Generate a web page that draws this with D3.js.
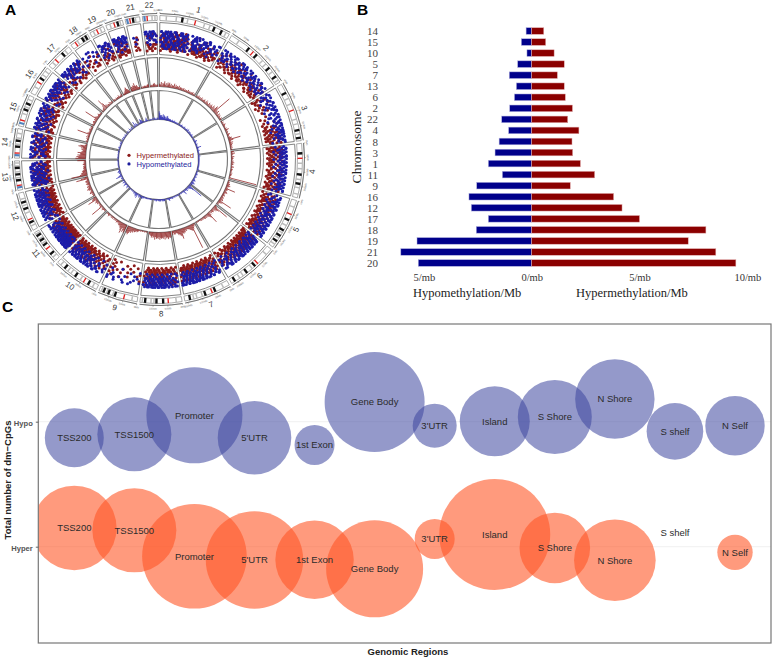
<!DOCTYPE html>
<html><head><meta charset="utf-8">
<script src="https://d3js.org/d3.v7.min.js"></script>
<style>html,body{margin:0;padding:0;background:#fff}svg{display:block}</style>
</head><body><svg id="c" width="772" height="658"></svg>
<script>
// ---------- Panel A data ----------
const chromNames=["1","2","3","4","5","6","7","8","9","10","11","12","13","14","15","16","17","18","19","20","21","22"];
const chromEndDeg=[30,58,83,106,128,150,170,188,205,225,240,257,270,283,297,310,322,331,338,346,353,360];
const chromMb=[249,243,198,191,181,171,159,146,141,136,135,133,115,107,102,90,81,78,59,63,48,51];
const centromere=[.49,.39,.46,.26,.27,.36,.38,.31,.33,.3,.4,.27,.14,.15,.17,.41,.3,.22,.45,.44,.27,.27];
const ideoBlack=[[.3,.76,.87],[.3,.45,.72,.88],[.14,.8,.93],[.16,.55,.72],[.38,.6,.72,.84],[.42,.62,.9],[.3,.52,.86],[.42,.58,.85],[.55,.72,.85],[.18,.5,.78],[.2,.52,.68,.85],[.18,.55,.72],[.3,.5,.72],[.35,.55],[.5,.7],[.55],[.62],[.6,.8],[],[.62],[.45],[]];
const ideoGrey=[[.08,.22,.38,.62,.7,.94],[.12,.58,.65,.8,.95],[.25,.35,.62,.7,.87],[.35,.45,.65,.8,.92],[.12,.5,.66,.78,.92],[.12,.5,.72,.8],[.12,.6,.72,.79],[.12,.65,.72,.93],[.12,.62,.78,.92],[.08,.38,.62,.7,.9],[.1,.6,.75,.92],[.1,.45,.65,.82],[.4,.6,.8,.9],[.45,.66,.82],[.38,.6,.85],[.22,.7,.85],[.15,.78],[.35,.7],[.2,.7],[.2,.8],[.65],[.6,.8]];
const stalkChroms=["13","14","15","21","22"];
// one character per position along the chromosome; digit = radial level, "." = nothing there
const hyperDots=[
"527316482531647253182647315264813526473152746135....25342413524.13.425.31.42.3.24.13.5.2.41.3.5.2.3",
".4.25.3.14.3.52.4.1.35.2.4.13.5.24.1.3.52.4.3.1.25.4.2.31.5.2.4.3.1.5.3.2.4.1.35.2.4.1.3.2",
"3.2.4.1..2.3..2.4...3....2.......3.....2....1.3....2.4.15.32.41.53.24.13.52.41.32.5",
"23154.3142.5.314.2.53.14.2.5.3.1.4.25.1.3.4.2.5.1.3.42.5.1.34.2.51.3.4.2.5.13.24.15.32",
"4.2.5.13.24.15.32.41.53.24.15.32.41.52.3.14.25.31.42.53.14.25.3142.5314.2.5",
"35142.5314253142531425314.2531425.3142.53142.5314.253.14.2.53.14.2.5.3.1.42.5",
"42.5.31.4.25.31.425.314.253.1425.31425.3142.5.3142531.4253142.531.425.31425",
"3.5.2.71.3.62.41.752.4135.2.61352.47352.41652.41372413.62.4135.2.4.13.52.4",
"4....5.......3......2...4.........3..5.......4.....35...2.4",
"4.2.5.3..4.2.5.31.4.25.31.42.53.14.25.31425.31425314.2531425314.2531425",
"3514253142531425314253142531425.3142.5314.25.31.42.53.14.2.53.1.4.2.5",
"2.4.1.3.52.41.35.24.13.52.41.35.2413.5241.3524.1352.41352.4135.24.1.3.5",
"352713624.13574135.24635241752.413.6241.35.24.1",
"25714.26314.2.5714253.1625.31475314.25.61.42.731.4.2",
"31725.31.4.65.3.1.4.75.31.4.25.6.14.2.73.14.65.3.1.4",
"4.2.7.3.1.6.25.3.74.2.5.61.4.2.73.1.4.65.3.14.75.",
"4.2.73.1.4.65.3.1.7.2.5.6.14.25.3.1.4.2.5",
"3...4..2.5...3..1.4..2...5..3",
"2..4...3..2..4.3..1...2.4.3",
"3.1..4.2.3.5.1.3.6.2.4.3.1.5.2",
".....35.4261.....",
".4.3.2.7.3.1.6.2.3.5.1.3."];
const hyperDots2=[
"0738152649371806254937160825374918.....0627384.19.6.03.7.18.2.6.0.4.7.1..3.6",
".6.0.7.1.8..2.6.0.5.7.1.3.8.0.6.2.7.1.5.0.8.3.6.1.7.0.5.2.8.1.6.3.7",
"0.1.6....7.0...1....5.........0.......6.0.7.1.6.0.71.60.72.60.17.06.27",
"60.17.26.07.16.27.06.17.26.07.1.6.2.7.0.6.17.2.6.07.1.6.27.06.17.26.07",
"0.6.1.7.06.27.16.07.26.17.06.27.16.07.26.17.06.27.1607.2617.0627",
"06170627160726170627160726170627.1607.2617.06.27.16.07.2.61.7.0",
"6.07.16.27.061.7260.7162.7061.7260.7162.7061.7260.7162.7",
"0.7.1.6.08.27.16.08.27.1608.2716.0827.1608.27.16.0.8.2.7",
"7....1.......0......6...1.........7..0.......1.7.0.6",
"1.6...0.7.16.0.72.61.07.26.1607.2610.7261.0726.1072.6107",
"07162607162706170627160726170.6271.60.72.61.07.2.6.1",
"0.7.1.6.02.71.60.27.16.02.71.6027.1602.7160.2716.0",
"0831605827160.3851607281.60.38.16.0",
"8.0.7.1.6.3.8.0.5.7.1.6.0.3.8.1.6.0.7.2.5.8.0.1.7",
"0.8.1.7.3.6.0.8.2.7.1.5.0.8.3.6.1.7.0.8.2.6.1",
"8.0.3.7.1.8.0.6.2.8.1.7.0.5.8.3.0.7.1.6",
"0.8.1.7.3.6.0.8.2.7.1.6.0.8.3.7.1",
"6..0..7...1..6",
"0.6..1.7.3..6.0.8.1",
"7.0.6.1.8.3.7.0.6.2.8.1",
"...1.7....",
"0.7.1.6.0.8.3.7"];
const hypoDots=[
"694738259481736295847362948175364829573846291753.....6748395746.83.596.47.58.6.79.84.6.5.87.4.6.9.5",
"7.96.48.75.69.8.47.96.58.79.64.8.57.96.48.7.59.86.47.9.58.6.74.89.5.76.94.8.57.96.48.7.59.6",
"8.6.7.5.9.7..8.6.9.7.8.6.9.7.8.9.6.8.7.9.5.8.7.6.9.8.7.9.6.8.7.96.89.78.69.87.96.7.8.6.9",
"8.7.96.8.79.68.7.96.87.9.6.8.79.6.87.9.68.7.96.8.7.9.68.7.96.87.9.68.79.6.87.96.8.7.9.6",
"7.9.6.8.5.97.68.95.76.89.57.68.95.76.896.57.896.578.965.789.657.8965.789.6",
"6789.5678956789.5678956789.567895.6789.5678.956.78.95.6.78.95.6.7.8.9.5.6.7",
"8.9.6.7.8.5.9.67.8.95.67.8.956.78.9567.895.6789.56789.56789.5678.9567.89",
"7.9.6.8.5.7.96.85.79.68.5796.85.7968.5796.85.79.6857.968.579.68.57.96.8",
"8...6.....7....8...9.......6...8.....7.......9...6.7.....8",
"6.8.7.....9.6..8.7..9.6.8.57.96.85.76.98.576.985.76985.7698.57698.5769",
"7698576985769857698576.985769.857698.5769.85.76.98.57.6.98.5.7.6.9",
"6.7.9.8.57.96.85.79.68.57.96.85.7968.5796.8579.6857.968.5796.85.7.9",
"6849573864.95738.64957.38649.5738.649.57.38.6.4",
"5.8.3.9.4.7.6.3.9.5.8.6.4.7.3.9.5.8.4.6.7.3.9.5.6.8",
"86957.48.69.57.48.6.9.57.48.6.95.7.48.69.5.7.48.69",
"8.9.6.7.5.8.97.6.85.79.68.57.9.68.57.96.85.7.9.6",
"8.96.78.95.67.89.56.78.95.67.89.56.78.9.5",
"8..6...7..9..6.8...5",
"9.6.7.8.5.8.6..8.9.5.7.8.6",
"8.6.9.7.5.8.6.7.9.5.8.7.6.9.8.7.6.8",
"...7..6.....",
"8.9.6.7.5.9.8.6.7.9.8.5.7"];
const hypoDots2=[
"4928371659283746192837564928176384.....9265748.39.2.64.8.57.3.9.2.6.8.4..7.9",
"3.5.9.4.6.8.3.5.9.4.7.3.6.9.5.8.4.6.3.9.5.7.8.4.6.3.9.5.8.4.7",
"5.9.4.7.3.6.9.5.4.8.3.9.5.7.4.9.3.6.8.5.9.4.7.3.9.5.6.4.8.9.3",
"4.9.5.3.8.4.9.6.3.5.8.4.9.3.7.5.9.4.6.3.8.5.4.9.3.7.5.9.4",
"4.3.9.5.8.3.94.58.39.48.53.94.85.39.48.53.94.85.3948.5394.8539",
"34893584.3948.5394.8539.4853.94.85.39.48.5.3.9.4",
"3.94.85.39.48.539.485.394.853.948.539.485.394.853.948",
"4.3.9.5.3.84.93.58.49.35.84.93.58.49.35.84.9.3.5.8",
"3....5...4.....9..3.....8...4.9",
"4.....3.9.5.8.39.48.53.94.85.39.48.5394.8539.4853",
"4839538495384.9538.4953.84.95.38.4.9.3",
"3.4.8.5.93.48.59.34.85.93.48.5934.8593.48.5",
"3928471659382.7416593.82.7.4",
"9.2.7.3.6.8.4.2.9.5.7.3.8.2.6.4.9.3.7.5",
"2.9.4.7.3.8.5.2.9.6.4.8.3.7.2.9.5.6.3.8.4.7",
"3.9.2.8.4.7.3.9.2.6.5.8.3.9.2.7.4.8.3",
"9.3.8.2.7.4.9.3.8.2.6.5.9.3.7.2.8",
"4...9..3...7",
"3.9.4.7.2.8.3.9.5.7.4",
"9.3.8.4.7.2.9.5.8.3.6.9.4.8",
"..4...",
"9.4.8.3.7.9.5.8.4"];
// one character per position; base-36 digit = bar height
const midBars=["4362547352646352436253435243324232324232324232","23242324323432543254354365487m546325243242","2131243221325313214321354e6325243231312","4253214232132423124213221313212t1","2132435423c4324532342343453g64231","24i8653443425e7543434323232212121","2346r8765443546676c98675445535","787978696878796878696757543","1212112121234345465768a98","a8a6c9765543342323132321243231","1323432f4232243543c764","3232543246535424534532e94","i977565434343243232a","c9b8a77a6546475a8321","2312314232f4323242323","322343243g5432343232","32346d8443324323","2321323242234","22345786542","465769656433","2132332344","2323453323"];
const innerBars=["a8564634736542524634323232213222132121212121","2121232121213212123132421232131212312121","1212124321213212126321213121212","21312121212121212121212121212131","1212123212132121234321354323","23i85432324232163212121212","2121211212113121214321211","232323123232212321211","1212121212221213243","3243216354323212121213","2124321253124213","12321853213243212","11211212112121","2121212112122","1213212123231","12313213212","232142341","2373421","2236542","2113521","12213","2312132"];
const legendA=["Hypermethylated","Hypomethylated"];
// ---------- Panel B data ----------
const chromOrder=["14","15","10","5","7","13","6","2","22","4","8","3","1","11","9","16","12","17","18","19","21","20"];
const hyperRate=[.56,.65,1.04,1.51,1.19,1.51,1.56,1.89,1.67,2.19,1.87,1.90,2.26,2.92,1.79,3.80,4.19,5.0,8.08,7.26,8.54,9.47];
const hypoRate=[.26,.48,.22,.65,1.04,.71,.80,1.02,1.39,1.07,1.51,1.70,2.01,1.36,2.55,2.91,2.80,2.01,2.57,5.32,6.07,5.26];
const rateTicks=[-5,0,5,10];
// ---------- Panel C data ----------
const regions=["TSS200","TSS1500","Promoter","5'UTR","1st Exon","Gene Body","3'UTR","Island","S Shore","N Shore","S shelf","N Self"];
const hypoY=[.871,.899,1.051,.871,.814,1.158,.968,1.003,1.038,1.182,.923,.968];
const hypoSize=[870,1369,2304,1354,400,2500,484,1225,1369,1576,801,882];
const hyperY=[.150,.131,-.077,-.106,-.105,-.177,.062,.098,-.010,-.108,.110,-.045];
const hyperSize=[1789,1764,2735,2372,1537,2352,400,3080,1246,1665,0,313];

const svg=d3.select("#c");
const SANS="'Liberation Sans',Arial,sans-serif",SERIF="'Liberation Serif','Times New Roman',serif";
const letter=(t,x,y)=>svg.append("text").attr("x",x).attr("y",y).text(t).attr("font-family",SANS).attr("font-weight",700).attr("font-size",15.5).attr("fill","#000");
letter("A",5,15);letter("B",357,15);letter("C",2,312);

// ---------- Panel A ----------
const A=svg.append("g").attr("transform","translate(158.5,159.5)");
const rad=d=>d*Math.PI/180, gap=.55;
const chroms=chromNames.map((n,i)=>({n,i,a0:(i?chromEndDeg[i-1]:0)+gap,a1:chromEndDeg[i]-gap,mb:chromMb[i]}));
const arc=d3.arc();
const sector=(c,r0,r1,f0=0,f1=1)=>{const s=d3.scaleLinear([0,1],[c.a0,c.a1]);return arc({innerRadius:r0,outerRadius:r1,startAngle:rad(s(f0)),endAngle:rad(s(f1))});};
const tracks=[[105,137,.9],[73,102,1.15],[40,69,1.15]];
const box=A.append("g");
chroms.forEach(c=>tracks.forEach(t=>box.append("path").attr("d",sector(c,t[0],t[1])).attr("fill","#fff").attr("stroke","#777").attr("stroke-width",t[2])));
// ideogram
const rI0=139,rI1=144;
chroms.forEach((c,i)=>{
  const g=A.append("g");
  g.append("path").attr("d",sector(c,rI0,rI1)).attr("fill","#fff").attr("stroke","#666").attr("stroke-width",.55);
  const w=1.0/(c.a1-c.a0);
  ideoGrey[i].forEach(f=>g.append("path").attr("d",sector(c,rI0,rI1,f,f+w*.6)).attr("fill","#bbb"));
  ideoBlack[i].forEach(f=>g.append("path").attr("d",sector(c,rI0,rI1,f,f+w*.95)).attr("fill","#111"));
  g.append("path").attr("d",sector(c,rI0,rI1,centromere[i],centromere[i]+w*.55)).attr("fill","#e02020");
  if(stalkChroms.includes(c.n)) g.append("path").attr("d",sector(c,rI0,rI1,.06,.06+w*.9)).attr("fill","#4f81bd");
  // genome axis
  const s=d3.scaleLinear([0,c.mb],[c.a0,c.a1]);
  g.append("path").attr("d",arc({innerRadius:146,outerRadius:146,startAngle:rad(c.a0),endAngle:rad(c.a1)})).attr("fill","none").attr("stroke","#444").attr("stroke-width",.5);
  d3.range(0,c.mb,50).forEach(mb=>{
    const a=rad(s(mb)),p0=d3.pointRadial(a,146),p1=d3.pointRadial(a,147.4),p2=d3.pointRadial(a,148.4);
    g.append("line").attr("x1",p0[0]).attr("y1",p0[1]).attr("x2",p1[0]).attr("y2",p1[1]).attr("stroke","#444").attr("stroke-width",.4);
    const deg=s(mb),flip=deg>90&&deg<270;
    g.append("text").attr("transform",`translate(${p2[0]},${p2[1]}) rotate(${flip?deg-180:deg})`).attr("text-anchor","middle").attr("dy",flip?"0.7em":0).attr("font-family",SANS).attr("font-size",2.6).attr("fill","#666").text(mb+"Mb");
  });
  // chromosome name
  const mid=(c.a0+c.a1)/2,p=d3.pointRadial(rad(mid),154.5),flip=mid>90&&mid<270;
  g.append("text").attr("transform",`translate(${p[0]},${p[1]}) rotate(${flip?mid-180:mid})`).attr("text-anchor","middle").attr("dominant-baseline","central").attr("font-family",SANS).attr("font-size",8).attr("fill","#333").text(c.n);
});
// scatter track
const rDot=d3.scaleLinear([0,9],[109,128]);
function dots(list,color){
  const g=A.append("g").attr("fill",color);
  chroms.forEach((c,i)=>{
    const cells=Array.from(list[i]);
    const s=d3.scaleLinear([0,cells.length-1],[c.a0+.5,c.a1-.5]);
    g.selectAll(null).data(cells.map((v,k)=>({v,k})).filter(d=>d.v!==".")).join("circle")
      .attr("cx",d=>d3.pointRadial(rad(s(d.k)),rDot(+d.v))[0])
      .attr("cy",d=>d3.pointRadial(rad(s(d.k)),rDot(+d.v))[1])
      .attr("r",1.5);
  });
}
dots(hyperDots,"#8b1a1a");dots(hyperDots2,"#8b1a1a");dots(hypoDots,"#1c1ca8");dots(hypoDots2,"#1c1ca8");
// bar tracks
function bars(list,r0,r1,color){
  const h=d3.scalePow().exponent(1.15).domain([0,30]).range([r0,r1]),g=A.append("g").attr("stroke",color).attr("stroke-width",.75);
  chroms.forEach((c,i)=>{
    const cells=Array.from(list[i]).map(v=>parseInt(v,36));
    const s=d3.scaleLinear([0,cells.length-1],[c.a0+.3,c.a1-.3]);
    g.selectAll(null).data(cells).join("line").each(function(v,k){
      const a=rad(s(k)),p0=d3.pointRadial(a,r0),p1=d3.pointRadial(a,h(v));
      d3.select(this).attr("x1",p0[0]).attr("y1",p0[1]).attr("x2",p1[0]).attr("y2",p1[1]);
    });
  });
}
bars(midBars,73,102,"#8b1a1a");bars(innerBars,40,69,"#2a2ab0");
// centre legend
legendA.forEach((t,i)=>{
  const col=i?"#1c1c9c":"#8b1a1a",y=-4+i*8.6;
  A.append("circle").attr("cx",-29.5).attr("cy",y-.2).attr("r",1.6).attr("fill",col);
  A.append("text").attr("x",-22).attr("y",y+2.6).attr("font-family",SANS).attr("font-size",7.6).attr("fill",col).text(t);
});

// ---------- Panel B ----------
const bx=d3.scaleLinear([0,10],[531.7,747.3]),by=d3.scalePoint(chromOrder,[31,263]);
const B=svg.append("g");
const barB=(vals,col,sign)=>B.append("g").selectAll("rect").data(vals).join("rect")
  .attr("x",v=>sign>0?bx(0):bx(-v)).attr("width",v=>bx(v)-bx(0))
  .attr("y",(v,i)=>by(chromOrder[i])-3.3).attr("height",6.6)
  .attr("fill",col).attr("stroke",sign>0?"#e3b0b0":"#b0b0e0").attr("stroke-width",.5);
barB(hypoRate,"#00008b",-1);barB(hyperRate,"#8b0000",1);
const axB=B.append("g").attr("transform","translate(0,279)").call(d3.axisBottom(bx).tickValues(rateTicks).tickSize(0).tickPadding(0).tickFormat(d=>Math.abs(d)+"/mb"));
axB.select(".domain").remove();
axB.selectAll("text").attr("font-family",SERIF).attr("font-size",10.5).attr("fill","#333").attr("y",-5);
const ayB=B.append("g").attr("transform","translate(378,0)").call(d3.axisLeft(by).tickSize(0).tickPadding(0));
ayB.select(".domain").remove();
ayB.selectAll("text").attr("font-family",SERIF).attr("font-size",11).attr("fill","#444");
B.append("text").attr("transform","translate(361,147) rotate(-90)").attr("text-anchor","middle").attr("font-family",SERIF).attr("font-size",13.5).attr("fill","#222").text("Chromosome");
B.append("text").attr("x",413).attr("y",297).attr("font-family",SERIF).attr("font-size",12.5).attr("fill","#222").text("Hypomethylation/Mb");
B.append("text").attr("x",576).attr("y",297).attr("font-family",SERIF).attr("font-size",12.5).attr("fill","#222").text("Hypermethylation/Mb");

// ---------- Panel C ----------
const frame={x0:38.3,x1:771,y0:324,y1:643};
const cx=d3.scalePoint(regions,[74.3,735]),cy=d3.scaleLinear([0,1],[546.7,421.7]),cr=d3.scaleSqrt([0,3080],[0,55.5]);
svg.append("clipPath").attr("id","frameClip").append("rect").attr("x",frame.x0).attr("y",frame.y0).attr("width",frame.x1-frame.x0).attr("height",frame.y1-frame.y0);
const C=svg.append("g");
[0,1].forEach(v=>C.append("line").attr("x1",frame.x0).attr("x2",frame.x1).attr("y1",cy(v)).attr("y2",cy(v)).attr("stroke","#ececec").attr("stroke-width",.8));
const series=[{y:hypoY,s:hypoSize,f:"#3c469f",o:.55},{y:hyperY,s:hyperSize,f:"#ff5726",o:.6}];
const bubbles=C.append("g").attr("clip-path","url(#frameClip)");
series.forEach(S=>bubbles.append("g").selectAll("circle").data(regions).join("circle")
  .attr("cx",d=>cx(d)).attr("cy",(d,i)=>cy(S.y[i])).attr("r",(d,i)=>cr(S.s[i])).attr("fill",S.f).attr("fill-opacity",S.o));
series.forEach(S=>C.append("g").selectAll("text").data(regions).join("text")
  .attr("x",d=>cx(d)).attr("y",(d,i)=>cy(S.y[i])).attr("dy","0.35em").attr("text-anchor","middle")
  .attr("font-family",SANS).attr("font-size",9.5).attr("fill","#2b2b2b").text(d=>d));
C.append("rect").attr("x",frame.x0).attr("y",frame.y0).attr("width",frame.x1-frame.x0).attr("height",frame.y1-frame.y0).attr("fill","none").attr("stroke","#777").attr("stroke-width",1.2);
const ayC=C.append("g").attr("transform",`translate(${frame.x0},0)`).call(d3.axisLeft(cy).tickValues([0,1]).tickSize(2.5).tickPadding(3).tickFormat(d=>d?"Hypo":"Hyper"));
ayC.select(".domain").remove();
ayC.selectAll("line").attr("stroke","#444").attr("stroke-width",.8);
ayC.selectAll("text").attr("font-family",SANS).attr("font-weight",700).attr("font-size",7.6).attr("fill","#555").attr("dy","0.55em");
C.append("text").attr("transform","translate(10.5,480) rotate(-90)").attr("text-anchor","middle").attr("font-family",SANS).attr("font-weight",700).attr("font-size",9.5).attr("fill","#222").text("Total number of dm\u2212CpGs");
C.append("text").attr("x",408).attr("y",654.5).attr("text-anchor","middle").attr("font-family",SANS).attr("font-weight",700).attr("font-size",9.5).attr("fill","#222").text("Genomic Regions");
</script></body></html>
